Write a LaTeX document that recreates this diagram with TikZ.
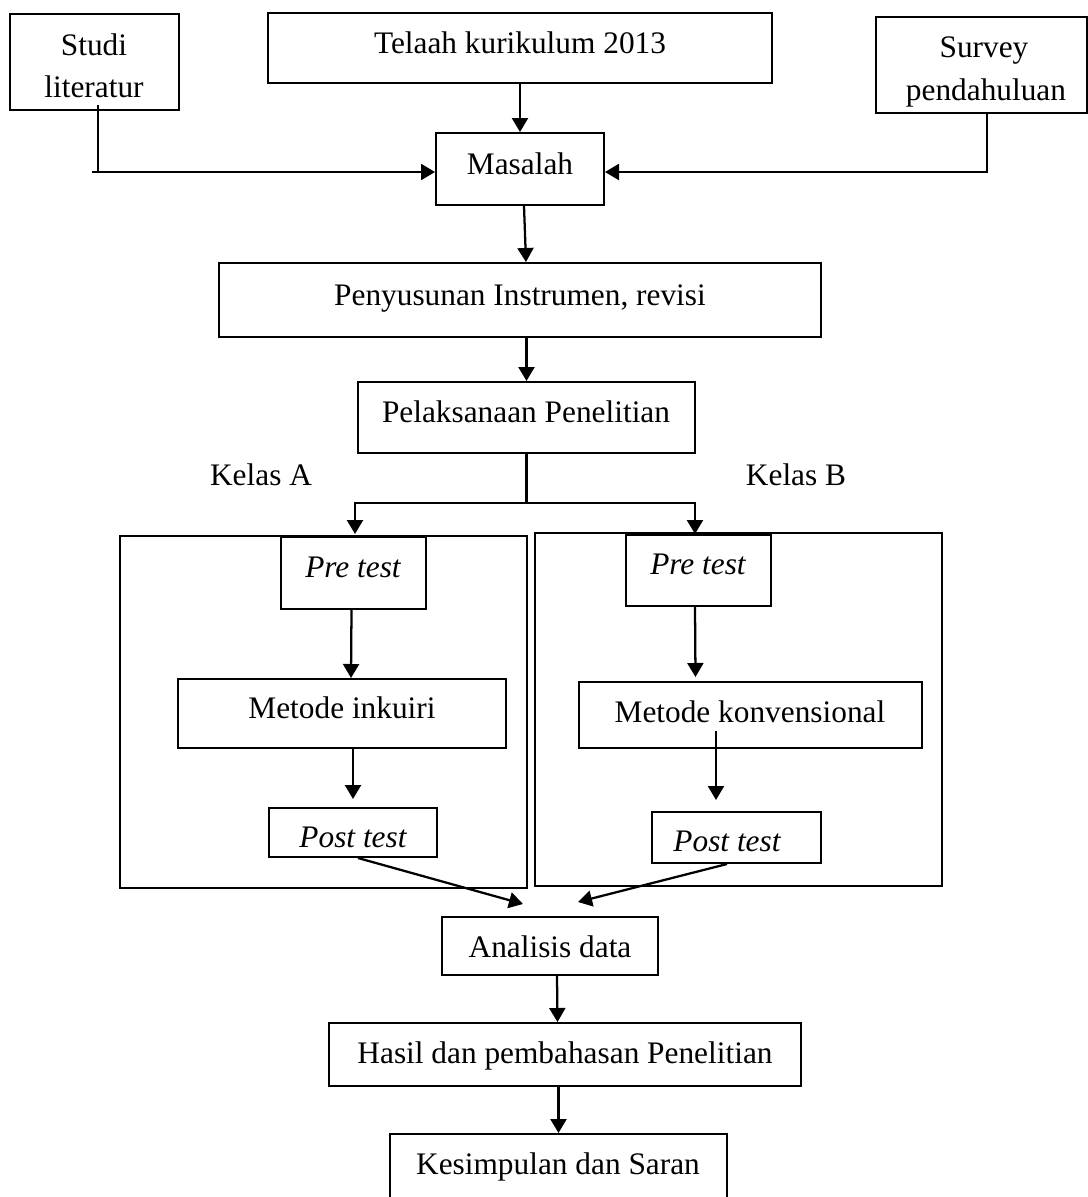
\documentclass[tikz,border=0pt]{standalone}
\usepackage{fontspec}
\setmainfont{Liberation Serif}
\usetikzlibrary{arrows.meta,fit}
\begin{document}
\begin{tikzpicture}[x=0.75pt,y=-0.75pt,
  bx/.style={draw=black,line width=1.5pt,inner sep=0pt,rectangle},
  txt/.style={inner sep=0pt,anchor=base,font=\fontsize{23.5}{28}\selectfont},
  ln/.style={draw=black,line width=1.7pt},
  arr/.style={ln,-{Triangle[length=10.5pt,width=12pt]}}]
\useasboundingbox (0,0) rectangle (1088,1197);
\fill[white] (0,0) rectangle (1088,1197);
\clip (0,0) rectangle (1088,1197);
% boxes
\node[bx, fit={(10,14) (179,110)}] (studi) {};
\node[bx, fit={(268,13) (772,83)}] (telaah) {};
\node[bx, fit={(876,17) (1087,113)}] (survey) {};
\node[bx, fit={(436,133) (604,205)}] (masalah) {};
\node[bx, fit={(219,263) (821,337)}] (penyusunan) {};
\node[bx, fit={(358,382) (695,453)}] (pelaksanaan) {};
\node[bx, fit={(120,536) (527,888)}] (bigA) {};
\node[bx, fit={(535,533) (942,886)}] (bigB) {};
\node[bx, fit={(281,537) (426,609)}] (preA) {};
\node[bx, fit={(178,679) (506,748)}] (metA) {};
\node[bx, fit={(269,808) (437,857)}] (postA) {};
\node[bx, fit={(626,535) (771,606)}] (preB) {};
\node[bx, fit={(579,682) (922,748)}] (metB) {};
\node[bx, fit={(652,812) (821,863)}] (postB) {};
\node[bx, fit={(442,917) (658,975)}] (analisis) {};
\node[bx, fit={(329,1023) (801,1086)}] (hasil) {};
\node[bx, fit={(390,1134) (727,1215)}] (kesimpulan) {};
% texts
\node[txt] (t1a) at (94,55) {Studi};
\node[txt] (t1b) at (94,97) {literatur};
\node[txt] (t2) at (520,53) {Telaah kurikulum 2013};
\node[txt] (t3a) at (984,57) {Survey};
\node[txt] (t3b) at (986,100) {pendahuluan};
\node[txt] (t4) at (520,174) {Masalah};
\node[txt] (t5) at (520,305) {Penyusunan Instrumen, revisi};
\node[txt] (t6) at (526,422) {Pelaksanaan Penelitian};
\node[txt] (kA) at (261,485) {Kelas A};
\node[txt] (kB) at (796,485) {Kelas B};
\node[txt] (t7) at (353,577) {\itshape Pre test};
\node[txt] (t8) at (342,718) {Metode inkuiri};
\node[txt] (t9) at (353,847) {\itshape Post test};
\node[txt] (t10) at (698,574) {\itshape Pre test};
\node[txt] (t11) at (750,722) {Metode konvensional};
\node[txt] (t12) at (727,851) {\itshape Post test};
\node[txt] (t13) at (550,957) {Analisis data};
\node[txt] (t14) at (565,1063) {Hasil dan pembahasan Penelitian};
\node[txt] (t15) at (558,1174) {Kesimpulan dan Saran};
% connectors
\draw[arr] (telaah.south) -- (masalah.north);
\draw[ln] ([shift={(3.5,-6)}]studi.south) -- ++(0,68);
\coordinate (sl) at (92,172);
\draw[arr] (sl) -- ([shift={(0,3)}]masalah.west);
\draw[arr] ([shift={(5.5,-2)}]survey.south) |- ([shift={(0,3)}]masalah.east);
\draw[arr] ([shift={(4,0)}]masalah.south) -- ([shift={(6,0)}]penyusunan.north);
\draw[arr] (penyusunan.south -| pelaksanaan.north) -- (pelaksanaan.north);
\draw[ln] (pelaksanaan.south) -- ++(0,49) coordinate (split);
\draw[arr] (split) -| ([shift={(1.5,-2)}]preA.north);
\draw[arr] (split) -| ([shift={(-3.5,0)}]preB.north);
\draw[arr] ([shift={(-2,0)}]preA.south) -- ([shift={(9,0)}]metA.north);
\draw[arr] (metA.south -| postA.north) -- ([shift={(0,-8)}]postA.north);
\draw[arr] ([shift={(-3.5,0)}]preB.south) -- ([shift={(-55,-4)}]metB.north);
\draw[arr] ([shift={(-34.5,-18)}]metB.south) -- ([shift={(-20.5,-11)}]postB.north);
\draw[arr] ([shift={(5,0)}]postA.south) -- ([shift={(-27,-12)}]analisis.north);
\draw[arr] ([shift={(-9.5,0)}]postB.south) -- ([shift={(28,-14)}]analisis.north);
\draw[arr] ([shift={(7,0)}]analisis.south) -- ([shift={(-7.5,0)}]hasil.north);
\draw[arr] (hasil.south -| kesimpulan.north) -- (kesimpulan.north);
\end{tikzpicture}
\end{document}
